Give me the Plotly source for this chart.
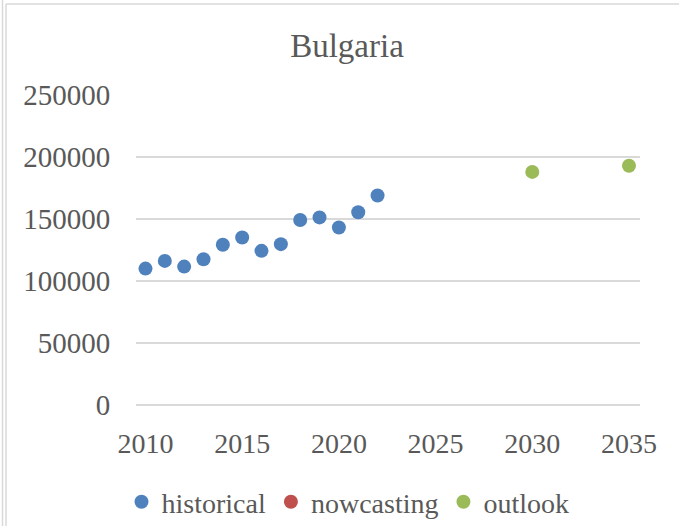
import plotly.graph_objects as go

# ---- data ----
hist_years = [2010, 2011, 2012, 2013, 2014, 2015, 2016, 2017, 2018, 2019, 2020, 2021, 2022]
hist_values = [110000, 116200, 111600, 117600, 129200, 135100, 124300, 129700, 149200, 151300, 143200, 155400, 168900]
nowcast_years = [None]
nowcast_values = [None]
outlook_years = [2030, 2035]
outlook_values = [188000, 193000]
x_ticks = [2010, 2015, 2020, 2025, 2030, 2035]
y_ticks = [0, 50000, 100000, 150000, 200000, 250000]

W, H = 679, 526
L, R, T, B = 136, 39, 95, 121
PW = W - L - R
PH = H - T - B

def px(x):
    return (x - L) / PW

def py(y):
    return (H - B - y) / PH

FONT = "Liberation Serif"
TXT = "#595959"
GRID = "#D9D9D9"

fig = go.Figure()
fig.add_trace(go.Scatter(x=hist_years, y=hist_values, mode="markers", name="historical",
                         marker=dict(color="#4F81BD", size=14)))
fig.add_trace(go.Scatter(x=nowcast_years, y=nowcast_values, mode="markers", name="nowcasting",
                         marker=dict(color="#C0504D", size=14)))
fig.add_trace(go.Scatter(x=outlook_years, y=outlook_values, mode="markers", name="outlook",
                         marker=dict(color="#9BBB59", size=14)))

shapes = [
    dict(type="line", xref="paper", yref="paper", x0=px(2.5), x1=px(2.5), y0=py(0), y1=py(H),
         line=dict(color=GRID, width=1.5)),
    dict(type="line", xref="paper", yref="paper", x0=px(6), x1=px(6), y0=py(4), y1=py(H),
         line=dict(color=GRID, width=1.5)),
    dict(type="line", xref="paper", yref="paper", x0=px(6), x1=px(W), y0=py(4), y1=py(4),
         line=dict(color=GRID, width=1.5)),
]

fig.update_layout(
    width=W, height=H,
    margin=dict(l=L, r=R, t=T, b=B, pad=0, autoexpand=False),
    paper_bgcolor="white", plot_bgcolor="white",
    font=dict(family=FONT, color=TXT, size=28),
    title=dict(text="Bulgaria", x=347 / W, xanchor="center", xref="container",
               y=1 - 45 / H, yanchor="middle", yref="container",
               font=dict(family=FONT, size=33, color=TXT)),
    xaxis=dict(range=[2009.51, 2035.57], tickvals=x_ticks, showgrid=False, zeroline=False,
               showline=False, ticks="outside", ticklen=13, tickcolor="rgba(0,0,0,0)",
               tickfont=dict(size=28, color=TXT), fixedrange=True),
    yaxis=dict(range=[0, 250000], tickvals=y_ticks, tickformat="d", showgrid=True,
               gridcolor=GRID, gridwidth=1.5, zeroline=True, zerolinecolor=GRID, zerolinewidth=1.5,
               showline=False, ticks="outside", ticklen=19, tickcolor="rgba(0,0,0,0)",
               tickfont=dict(size=29, color=TXT)),
    legend=dict(orientation="h", x=348 / W, xanchor="center", xref="container",
                y=1 - 502 / H, yanchor="middle", yref="container",
                font=dict(size=28, color=TXT), itemsizing="trace"),
    shapes=shapes,
    showlegend=True,
)

fig.write_html("out.html", config={"displayModeBar": False},
               post_script="document.body.style.margin='0';")
